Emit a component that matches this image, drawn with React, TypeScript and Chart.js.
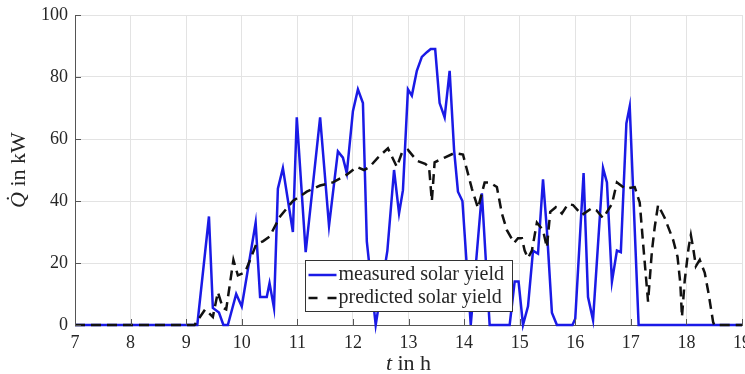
import React, { useEffect, useRef } from "react";
import { Chart, registerables } from "chart.js";

Chart.register(...registerables);

// time in hours
const measuredTime = [7, 9.2, 9.41, 9.48, 9.59, 9.67, 9.75, 9.9, 10.0, 10.25, 10.33, 10.45, 10.5, 10.58, 10.65, 10.74, 10.92, 10.99, 11.15, 11.41, 11.57, 11.73, 11.82, 11.89, 12.0, 12.09, 12.18, 12.25, 12.41, 12.62, 12.74, 12.83, 12.9, 12.99, 13.06, 13.15, 13.24, 13.33, 13.4, 13.48, 13.56, 13.65, 13.74, 13.82, 13.89, 13.97, 14.12, 14.32, 14.46, 14.82, 14.91, 14.98, 15.06, 15.15, 15.24, 15.33, 15.42, 15.49, 15.58, 15.67, 15.95, 16.0, 16.15, 16.23, 16.32, 16.5, 16.57, 16.66, 16.75, 16.82, 16.92, 16.98, 17.14, 19];
const measuredValue = [0, 0, 35, 5.5, 4, 0, 0, 10, 6, 33, 9, 9, 13.5, 5.5, 44, 50.6, 30, 67, 23.5, 67, 32, 56, 54, 49, 69, 76, 71.6, 27, 0, 24, 50, 36, 43.5, 76, 74, 82, 86.5, 88, 89, 89, 71.6, 67, 82, 56.5, 43, 40, 0, 42.5, 0, 0, 14, 14, 0, 6, 24, 23, 47, 30.6, 4, 0, 0, 2, 49, 9, 1.6, 50.6, 46, 14, 24, 23.5, 65, 70.5, 0, 0];

const predictedTime = [7, 9.15, 9.34, 9.48, 9.57, 9.66, 9.72, 9.85, 9.93, 10.06, 10.15, 10.26, 10.38, 10.5, 10.69, 10.92, 11.17, 11.41, 11.64, 11.89, 12.07, 12.2, 12.3, 12.45, 12.63, 12.79, 12.88, 12.99, 13.15, 13.3, 13.37, 13.42, 13.47, 13.65, 13.83, 13.98, 14.14, 14.25, 14.37, 14.46, 14.59, 14.68, 14.77, 14.9, 14.97, 15.04, 15.09, 15.15, 15.22, 15.31, 15.42, 15.49, 15.55, 15.65, 15.76, 15.87, 15.96, 16.12, 16.3, 16.38, 16.5, 16.66, 16.75, 16.9, 17.07, 17.16, 17.22, 17.31, 17.38, 17.43, 17.49, 17.61, 17.76, 17.84, 17.89, 17.92, 17.97, 18.04, 18.08, 18.12, 18.17, 18.24, 18.33, 18.4, 18.48, 18.5, 19];
const predictedValue = [0, 0, 5, 2.6, 10.6, 5.5, 5, 21, 16, 17, 21, 26, 27, 28.5, 35, 40, 43, 45, 46, 48.5, 51, 50, 51, 54, 57, 51, 55.5, 56.5, 53, 52, 51, 40, 52.5, 54, 55.5, 55, 44, 37.7, 46, 46, 44.5, 36, 30.6, 26.5, 28, 28, 24, 21.6, 24, 33, 30.6, 25, 36.5, 38, 36, 39, 38.7, 35.5, 37.7, 37, 34.5, 39, 46, 44, 44.5, 39.5, 26.5, 7.5, 24, 31.6, 38.7, 34.5, 27.5, 22, 13.5, 2.6, 14.5, 25, 29, 25, 19, 21, 16.8, 10, 1, 0, 0];

const seriesNames = ["measured solar yield", "predicted solar yield"];
const xTitleItalic = "t";
const xTitleRest = " in h";
const yTitleItalic = "Q\u0307";
const yTitleRest = " in kW";

const BLUE = "#1a1ae6";
const BLACK = "#111111";
const TEXT = "#262626";
const SERIF = '"Liberation Serif", "DejaVu Serif", serif';

const overlay = {
  id: "overlay",
  afterDraw(chart: any) {
    const ctx = chart.ctx;
    const { left, right, top, bottom } = chart.chartArea;
    const xs = chart.scales.x;
    const ys = chart.scales.y;
    ctx.save();
    // inward tick marks
    ctx.strokeStyle = "#555";
    ctx.lineWidth = 1;
    ctx.beginPath();
    xs.ticks.forEach((t: any) => {
      const px = Math.round(xs.getPixelForValue(t.value)) + 0.5;
      ctx.moveTo(px, bottom);
      ctx.lineTo(px, bottom - 6);
    });
    ys.ticks.forEach((t: any) => {
      const py = Math.round(ys.getPixelForValue(t.value)) + 0.5;
      ctx.moveTo(left, py);
      ctx.lineTo(left + 6, py);
    });
    ctx.stroke();

    // axis titles
    ctx.fillStyle = TEXT;
    ctx.textBaseline = "middle";
    ctx.textAlign = "left";
    const itFont = `italic 22px ${SERIF}`;
    const rmFont = `22px ${SERIF}`;
    ctx.font = itFont;
    const wxi = ctx.measureText(xTitleItalic).width;
    ctx.font = rmFont;
    const wxr = ctx.measureText(xTitleRest).width;
    const cx = (left + right) / 2;
    const xStart = cx - (wxi + wxr) / 2;
    const xy = bottom + 39;
    ctx.font = itFont;
    ctx.fillText(xTitleItalic, xStart, xy);
    ctx.font = rmFont;
    ctx.fillText(xTitleRest, xStart + wxi, xy);

    ctx.font = itFont;
    const wyi = ctx.measureText(yTitleItalic).width;
    ctx.font = rmFont;
    const wyr = ctx.measureText(yTitleRest).width;
    ctx.save();
    ctx.translate(19, (top + bottom) / 2);
    ctx.rotate(-Math.PI / 2);
    const yStart = -(wyi + wyr) / 2;
    ctx.font = itFont;
    ctx.fillText(yTitleItalic, yStart, 0);
    ctx.font = rmFont;
    ctx.fillText(yTitleRest, yStart + wyi, 0);
    ctx.restore();

    // legend
    const lx = left + 230.5;
    const ly = top + 245.5;
    const lw = 207;
    const lh = 51;
    ctx.fillStyle = "#ffffff";
    ctx.fillRect(lx, ly, lw, lh);
    ctx.strokeStyle = "#333";
    ctx.lineWidth = 1;
    ctx.strokeRect(lx, ly, lw, lh);
    const rows = [ly + 14.5, ly + 37.5];
    ctx.lineWidth = 2.5;
    ctx.strokeStyle = BLUE;
    ctx.setLineDash([]);
    ctx.beginPath();
    ctx.moveTo(lx + 3, rows[0]);
    ctx.lineTo(lx + 31, rows[0]);
    ctx.stroke();
    ctx.strokeStyle = BLACK;
    ctx.setLineDash([9, 10]);
    ctx.beginPath();
    ctx.moveTo(lx + 3, rows[1]);
    ctx.lineTo(lx + 31, rows[1]);
    ctx.stroke();
    ctx.setLineDash([]);
    ctx.fillStyle = TEXT;
    ctx.font = `20px ${SERIF}`;
    ctx.textBaseline = "middle";
    ctx.fillText(seriesNames[0], lx + 33, rows[0]);
    ctx.fillText(seriesNames[1], lx + 33, rows[1]);
    ctx.restore();
  },
};

export default function App() {
  const ref = useRef<HTMLCanvasElement | null>(null);
  useEffect(() => {
    if (!ref.current) return;
    const measured = measuredTime.map((t, i) => ({ x: t, y: measuredValue[i] }));
    const predicted = predictedTime.map((t, i) => ({ x: t, y: predictedValue[i] }));
    const chart = new Chart(ref.current, {
      type: "line",
      data: {
        datasets: [
          {
            label: seriesNames[1],
            data: predicted,
            borderColor: BLACK,
            borderWidth: 2.5,
            borderDash: [10, 6],
            pointRadius: 0,
            tension: 0,
            clip: false,
          },
          {
            label: seriesNames[0],
            data: measured,
            borderColor: BLUE,
            borderWidth: 2.5,
            pointRadius: 0,
            tension: 0,
            clip: false,
          },
        ],
      },
      options: {
        animation: false,
        responsive: false,
        devicePixelRatio: 1,
        layout: { padding: { left: 0, right: 3, top: 15, bottom: 0 } },
        plugins: { legend: { display: false }, tooltip: { enabled: false } },
        scales: {
          x: {
            type: "linear",
            min: 7,
            max: 19,
            ticks: { stepSize: 1, color: TEXT, font: { family: SERIF, size: 18 }, padding: 7, maxRotation: 0 },
            grid: { color: "#e3e3e3", drawTicks: false },
            border: { color: "#555", width: 1 },
            afterFit(scale: any) {
              scale.height = 49;
              scale.paddingLeft = 0;
              scale.paddingRight = 0;
            },
          },
          y: {
            min: 0,
            max: 100,
            ticks: { stepSize: 20, color: TEXT, font: { family: SERIF, size: 18 }, padding: 7 },
            grid: { color: "#e3e3e3", drawTicks: false },
            border: { color: "#555", width: 1 },
            afterFit(scale: any) {
              scale.width = 75;
              scale.paddingTop = 0;
              scale.paddingBottom = 0;
            },
          },
        },
      },
      plugins: [overlay],
    });
    return () => chart.destroy();
  }, []);
  return (
    <div style={{ position: "fixed", left: 0, top: 0, width: 745, height: 374, background: "#fff" }}>
      <canvas ref={ref} width={745} height={374} />
    </div>
  );
}
